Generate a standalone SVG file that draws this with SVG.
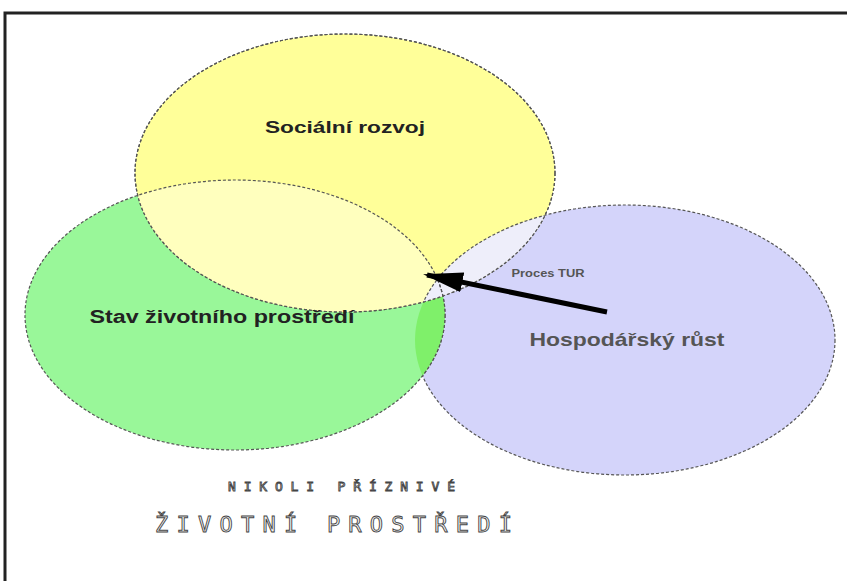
<svg xmlns="http://www.w3.org/2000/svg" width="847" height="581" viewBox="0 0 847 581">
<defs>
<style>
.ell{stroke:#555;stroke-width:1.2;stroke-dasharray:3 2}
.lbl{font-family:"Liberation Sans",Arial,sans-serif;font-weight:bold;text-anchor:middle}
.cap{font-family:"DejaVu Sans Mono","Liberation Mono",monospace;fill:#f4f4f4;stroke:#444;stroke-width:0.9;text-anchor:start}
</style>
<clipPath id="cY"><ellipse cx="345" cy="173" rx="210" ry="139"/></clipPath>
<clipPath id="cG"><ellipse cx="235" cy="315" rx="210" ry="135"/></clipPath>
<clipPath id="cB"><ellipse cx="625" cy="340" rx="210" ry="135"/></clipPath>
<marker id="ah" viewBox="0 0 10 10" refX="9" refY="5" markerWidth="8" markerHeight="4" orient="auto" markerUnits="strokeWidth" preserveAspectRatio="none">
<path d="M0,0 L10,5 L0,10 z" fill="#000"/>
</marker>
</defs>
<rect width="847" height="581" fill="#fff"/>
<path d="M5,581 V13 H847" fill="none" stroke="#222" stroke-width="3"/>
<g id="node-hospodarsky">
<ellipse class="ell" cx="625" cy="340" rx="210" ry="135" fill="#d4d4fa"/>
</g>
<g id="node-stav">
<ellipse class="ell" cx="235" cy="315" rx="210" ry="135" fill="#99f799"/>
<ellipse cx="235" cy="315" rx="210" ry="135" fill="#7ff06a" clip-path="url(#cB)"/>
</g>
<g id="node-socialni">
<ellipse class="ell" cx="345" cy="173" rx="210" ry="139" fill="#ffff99"/>
<ellipse cx="345" cy="173" rx="210" ry="139" fill="#ffffbe" clip-path="url(#cG)"/>
<ellipse cx="345" cy="173" rx="210" ry="139" fill="#eeeefa" clip-path="url(#cB)"/>
<ellipse class="ell" cx="345" cy="173" rx="210" ry="139" fill="none"/>
<ellipse class="ell" cx="235" cy="315" rx="210" ry="135" fill="none" clip-path="url(#cY)"/>
<ellipse class="ell" cx="625" cy="340" rx="210" ry="135" fill="none" clip-path="url(#cY)"/>
<ellipse class="ell" cx="235" cy="315" rx="210" ry="135" fill="none" clip-path="url(#cB)"/>
</g>
<g id="connectors">
<line x1="607" y1="312" x2="427" y2="275" stroke="#000" stroke-width="5" marker-end="url(#ah)"/>
<text class="lbl" x="548" y="277" font-size="11" fill="#555" textLength="73" lengthAdjust="spacingAndGlyphs">Proces TUR</text>
</g>
<text class="lbl" x="345" y="133" font-size="17" fill="#222" textLength="160" lengthAdjust="spacingAndGlyphs">Sociální rozvoj</text>
<text class="lbl" x="222" y="323" font-size="18" fill="#222" textLength="265" lengthAdjust="spacingAndGlyphs">Stav životního prostředí</text>
<text class="lbl" x="627" y="346" font-size="19" fill="#555" textLength="195" lengthAdjust="spacingAndGlyphs">Hospodářský růst</text>
<text class="cap" x="228" y="491" font-size="13" textLength="227" lengthAdjust="spacing">NIKOLI PŘÍZNIVÉ</text>
<text class="cap" x="155" y="532" font-size="22" textLength="357" lengthAdjust="spacing">ŽIVOTNÍ PROSTŘEDÍ</text>
</svg>
